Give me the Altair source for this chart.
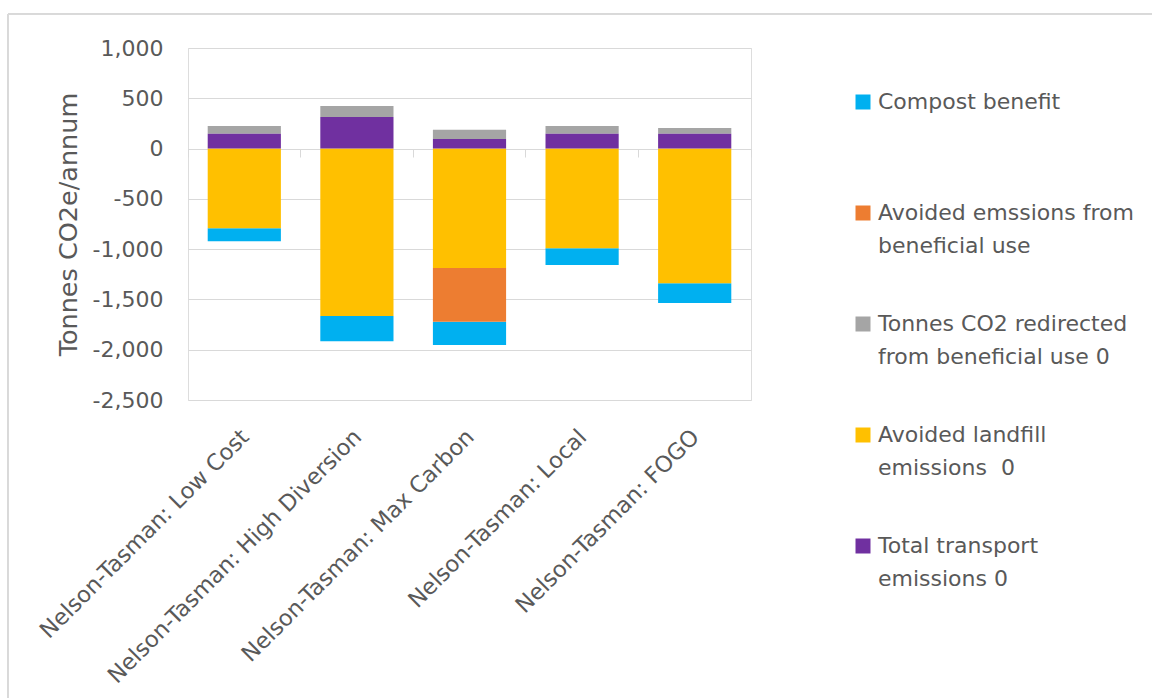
import altair as alt
import pandas as pd

# ---- data ----
scenarios = [
    "Nelson-Tasman: Low Cost",
    "Nelson-Tasman: High Diversion",
    "Nelson-Tasman: Max Carbon",
    "Nelson-Tasman: Local",
    "Nelson-Tasman: FOGO",
]
series_names = [
    "Compost benefit",
    "Avoided emssions from beneficial use",
    "Tonnes CO2 redirected from beneficial use 0",
    "Avoided landfill emissions  0",
    "Total transport emissions 0",
]
legend_lines = [
    ["Compost benefit", " "],
    ["Avoided emssions from", "beneficial use"],
    ["Tonnes CO2 redirected", "from beneficial use 0"],
    ["Avoided landfill", "emissions\u00a0 0"],
    ["Total transport", "emissions 0"],
]
compost_benefit = [-129, -252, -233, -166, -196]
avoided_beneficial = [0, 0, -534, 0, 0]
redirected = [77, 109, 92, 77, 57]
avoided_landfill = [-792, -1665, -1187, -991, -1340]
transport = [147, 314, 95, 147, 147]
series_colors = ["#00B0F0", "#ED7D31", "#A5A5A5", "#FFC000", "#7030A0"]
stack_rank = [4, 3, 2, 1, 0]  # 0 = next to the zero line
y_tick_values = [-2500, -2000, -1500, -1000, -500, 0, 500, 1000]

values_by_series = [compost_benefit, avoided_beneficial, redirected,
                    avoided_landfill, transport]
rows = []
for s_i, s in enumerate(series_names):
    for c_i, c in enumerate(scenarios):
        rows.append({"Scenario": c, "Series": s,
                     "Value": values_by_series[s_i][c_i],
                     "rank": stack_rank[s_i]})
df = pd.DataFrame(rows)

FONT = "DejaVu Sans"
TXT = "#595959"
GRID = "#d9d9d9"

# legend label expression (two lines, first line aligned with the symbol)
def q(t):
    return "'" + t.replace("'", "\\'") + "'"

expr = "datum.label"
for s, lines in reversed(list(zip(series_names, legend_lines))):
    expr = f"datum.label === {q(s)} ? [{q(lines[0])}, {q(lines[1])}] : " + expr

y_enc = alt.Y(
    "Value:Q",
    stack="zero",
    scale=alt.Scale(domain=[-2500, 1000], nice=False, zero=False),
    axis=alt.Axis(
        values=y_tick_values, format=",.0f", title="Tonnes CO2e/annum",
        grid=True, gridColor=GRID, gridWidth=1, domain=False, ticks=False,
        labelFont=FONT, labelFontSize=22, labelColor=TXT, labelPadding=25,
        titleFont=FONT, titleFontSize=25.5, titleColor=TXT,
        titleFontWeight="normal", titlePadding=11,
    ),
)

x_scale = alt.Scale(paddingInner=0, paddingOuter=0)

bars = alt.Chart(df).mark_bar(width=alt.RelativeBandSize(0.65)).encode(
    x=alt.X("Scenario:N", sort=scenarios, scale=x_scale,
            axis=alt.Axis(orient="bottom", title=None, domain=False,
                          ticks=False, grid=False, labelAngle=-45,
                          labelAlign="right", labelBaseline="middle",
                          labelOffset=1, labelPadding=33, labelLimit=0,
                          labelFont=FONT, labelFontSize=22.5,
                          labelColor=TXT)),
    y=y_enc,
    color=alt.Color(
        "Series:N",
        scale=alt.Scale(domain=series_names, range=series_colors),
        legend=alt.Legend(
            title=None, orient="none", legendX=664, legendY=43,
            symbolType="square", symbolSize=225, symbolStrokeWidth=0,
            labelFont=FONT, labelFontSize=22, labelColor=TXT,
            labelOffset=4, labelLimit=0, rowPadding=56, padding=0,
            labelExpr=expr,
        ),
    ),
    order=alt.Order("rank:Q", sort="ascending"),
)

zero_axis = alt.Chart(df).mark_bar(opacity=0).encode(
    x=alt.X("Scenario:N", sort=scenarios, scale=x_scale,
            axis=alt.Axis(orient="bottom", title=None, labels=False,
                          grid=False, domain=True, domainColor=GRID,
                          domainWidth=1, ticks=True, tickColor=GRID,
                          tickWidth=1, tickSize=8, bandPosition=1,
                          tickExtra=True, offset=-251, zindex=0)),
    y=y_enc,
)

frame = alt.Chart(df).mark_rect(fill=None, stroke=GRID, strokeWidth=1).encode(
    x=alt.value(-180), x2=alt.value(990), y=alt.value(-34), y2=alt.value(680)
)

chart = alt.layer(frame, bars, zero_axis).resolve_axis(x="independent").properties(
    width=563, height=352,
    padding={"left": 188, "top": 48, "right": 401, "bottom": 298},
    autosize=alt.AutoSizeParams(type="none"),
    background="white",
).configure_view(stroke=None).configure(
    style={"guide-label": {"lineHeight": 33}},
    locale={"number": {"decimal": ".", "thousands": ",", "grouping": [3],
                       "currency": ["$", ""], "minus": "-"}},
)

chart.save("out.html", embed_options={"renderer": "svg", "actions": False})
